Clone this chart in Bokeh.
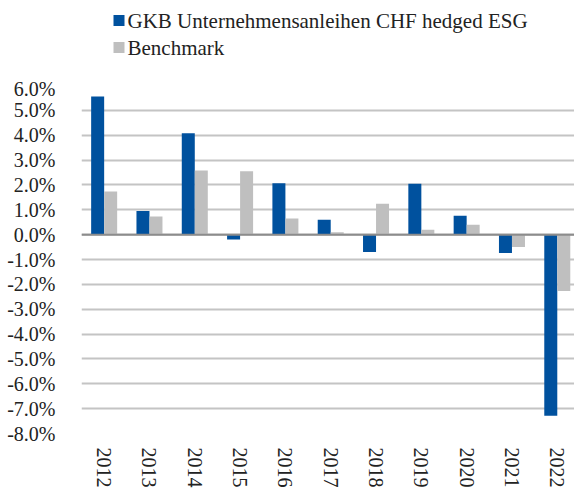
from bokeh.plotting import figure
from bokeh.layouts import column
from bokeh.models import (ColumnDataSource, Range1d, FixedTicker, PrintfTickFormatter, Span)
from bokeh.core.properties import value
from bokeh.transform import dodge
from bokeh.embed import file_html
from bokeh.resources import INLINE
import math

years = ["2012", "2013", "2014", "2015", "2016", "2017", "2018", "2019", "2020", "2021", "2022"]
fund = [5.56, 0.95, 4.08, -0.20, 2.07, 0.60, -0.70, 2.05, 0.76, -0.74, -7.29]
bench = [1.74, 0.73, 2.58, 2.55, 0.65, 0.10, 1.24, 0.20, 0.40, -0.50, -2.27]
y_ticks = [-8, -7, -6, -5, -4, -3, -2, -1, 0, 1, 2, 3, 4, 5, 6]
series_names = ["GKB Unternehmensanleihen CHF hedged ESG", "Benchmark"]

BLUE = "#00519E"
GREY = "#BFBFBF"
FONT = "'Liberation Serif', serif"
LEG_H = 77
W = 574
LEFT = 81

idx = list(range(len(years)))
src = ColumnDataSource(dict(x=idx, fund=fund, bench=bench))

# ---- legend strip (ranges in window pixels) ----
lg = figure(width=W, height=LEG_H, output_backend="svg", toolbar_location=None,
            x_range=Range1d(LEFT, W), y_range=Range1d(0, LEG_H),
            min_border_left=LEFT, min_border_right=0, min_border_top=0, min_border_bottom=0)
lg.axis.visible = False
lg.grid.visible = False
lg.outline_line_color = None
leg_src = ColumnDataSource(dict(
    gx=[118.5, 118.5], ty=[LEG_H - 20, LEG_H - 47], tx=[127, 127],
    label=series_names, color=[BLUE, GREY]))
lg.scatter(x="gx", y="ty", marker="square", size=11, fill_color="color",
           line_color=None, source=leg_src)
lg.text(x="tx", y="ty", text="label", source=leg_src, text_font=value(FONT),
        text_font_size="21px", text_baseline="middle", text_align="left",
        text_color="#222222")

# ---- main chart ----
p = figure(width=W, height=490 - LEG_H, output_backend="svg", toolbar_location=None,
           x_range=Range1d(-0.5, 10.38), y_range=Range1d(-8, 6),
           min_border_left=LEFT, min_border_right=0, min_border_top=85 - LEG_H, min_border_bottom=50)

bw = 0.287
p.vbar(x=dodge("x", -bw / 2), top="fund", width=bw, source=src, fill_color=BLUE, line_color=None)
p.vbar(x=dodge("x", bw / 2), top="bench", width=bw, source=src, fill_color=GREY, line_color=None)

p.add_layout(Span(location=0, dimension="width", line_color="#8C8C8C", line_width=2))

p.outline_line_color = None
p.xgrid.grid_line_color = None
p.ygrid.grid_line_color = "#C4C4C4"
p.ygrid.grid_line_width = 2
p.ygrid.ticker = FixedTicker(ticks=y_ticks)

p.yaxis.ticker = FixedTicker(ticks=y_ticks)
p.yaxis.formatter = PrintfTickFormatter(format="%.1f%%")
p.yaxis.axis_line_color = None
p.yaxis.major_tick_line_color = None
p.yaxis.minor_tick_line_color = None
p.yaxis.major_label_standoff = 20
p.yaxis.major_label_text_font = FONT
p.yaxis.major_label_text_font_size = "20px"
p.yaxis.major_label_text_color = "#222222"

p.xaxis.ticker = FixedTicker(ticks=idx)
p.xaxis.major_label_overrides = {i: y for i, y in zip(idx, years)}
p.xaxis.major_label_orientation = -math.pi / 2
p.xaxis.axis_line_color = None
p.xaxis.major_tick_line_color = None
p.xaxis.minor_tick_line_color = None
p.xaxis.major_label_standoff = 8
p.xaxis.major_label_text_font = FONT
p.xaxis.major_label_text_font_size = "20px"
p.xaxis.major_label_text_color = "#222222"

layout = column(lg, p, spacing=0)
open("out.html", "w").write(file_html(layout, INLINE))
